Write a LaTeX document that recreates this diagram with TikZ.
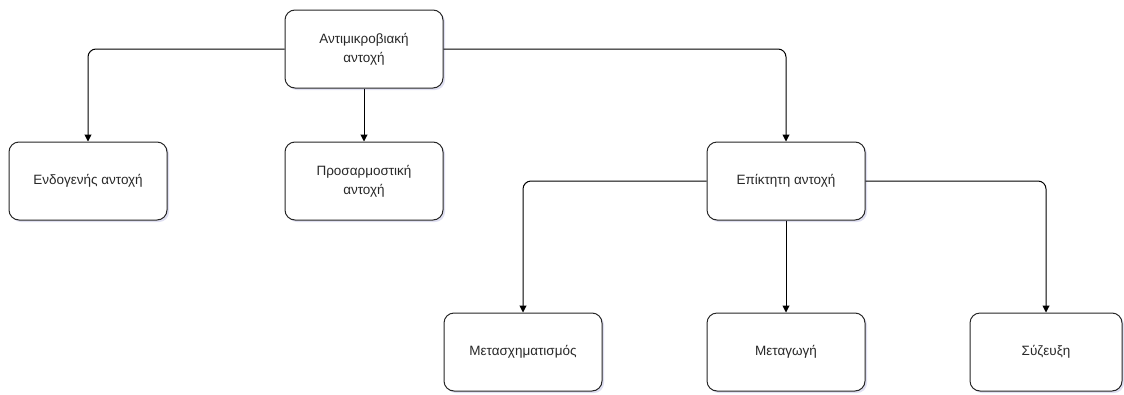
\documentclass[tikz,border=0pt]{standalone}
\usepackage{fontspec}
\setmainfont{Liberation Sans}
\usetikzlibrary{arrows.meta,shadows}
\definecolor{txt}{RGB}{40,40,40}
\tikzset{
  box/.style={draw=black!85, line width=1pt, rounded corners=10pt, fill=white,
    minimum width=158pt, minimum height=78pt, inner sep=2pt, align=center,
    text=txt, font=\fontsize{13.5}{19}\selectfont,
    drop shadow={opacity=0.18, shadow xshift=2pt, shadow yshift=-2pt, fill=blue!40!gray}},
  conn/.style={draw=black, line width=1pt, rounded corners=8pt,
    -{Triangle[length=7pt,width=7pt]}}
}
\begin{document}
\begin{tikzpicture}[x=1pt,y=-1pt]
\useasboundingbox (0,0) rectangle (1124,394);
\node[box] (top) at (364,49) {Αντιμικροβιακή\\αντοχή};
\node[box] (endo) at (88,181) {Ενδογενής αντοχή};
\node[box] (pros) at (364,181) {Προσαρμοστική\\αντοχή};
\node[box] (epik) at (786,181) {Επίκτητη αντοχή};
\node[box] (metasx) at (523,352) {Μετασχηματισμός};
\node[box] (metag) at (786,352) {Μεταγωγή};
\node[box, minimum width=152pt] (syz) at (1046,352) {Σύζευξη};
\draw[conn] (top.west) -| (endo.north);
\draw[conn] (top.south) -- (pros.north);
\draw[conn] (top.east) -| (epik.north);
\draw[conn] (epik.west) -| (metasx.north);
\draw[conn] (epik.south) -- (metag.north);
\draw[conn] (epik.east) -| (syz.north);
\end{tikzpicture}
\end{document}
